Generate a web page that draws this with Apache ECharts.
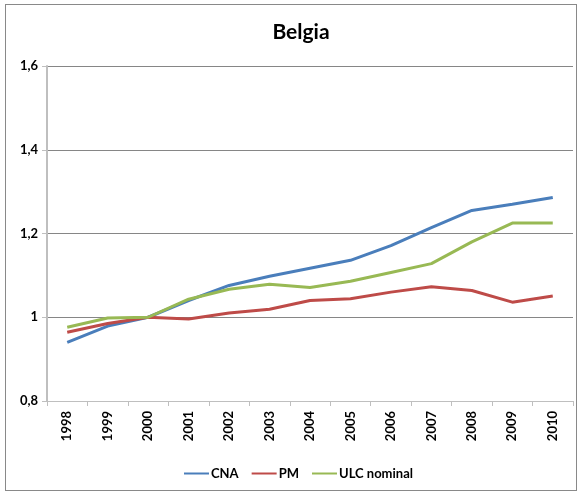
<!DOCTYPE html>
<html>
<head>
<meta charset="utf-8">
<script src="https://cdn.jsdelivr.net/npm/echarts@6/dist/echarts.min.js"></script>
<style>
  html, body { margin: 0; padding: 0; background: #fff; }
  #frame {
    position: absolute; left: 5px; top: 4px; width: 572px; height: 487px;
    border: 1px solid #898989; box-sizing: border-box;
  }
  #chart { position: absolute; left: 0; top: 0; width: 582px; height: 493px; }
</style>
</head>
<body>
<div id="frame"></div>
<div id="chart"></div>
<script>
const years = ['1998', '1999', '2000', '2001', '2002', '2003', '2004', '2005', '2006', '2007', '2008', '2009', '2010'];
const cna = [0.940, 0.979, 1.000, 1.040, 1.076, 1.098, 1.117, 1.136, 1.171, 1.214, 1.255, 1.270, 1.286];
const pm = [0.964, 0.985, 1.000, 0.996, 1.010, 1.019, 1.040, 1.044, 1.060, 1.073, 1.064, 1.036, 1.051];
const ulc = [0.976, 0.998, 1.000, 1.043, 1.067, 1.079, 1.071, 1.086, 1.107, 1.128, 1.180, 1.225, 1.225];
const yTicks = { 0.8: '0,8', 1: '1', 1.2: '1,2', 1.4: '1,4', 1.6: '1,6' };

const font = 'Lato, "Open Sans", sans-serif';
const chart = echarts.init(document.getElementById('chart'));

chart.setOption({
  animation: false,
  title: {
    text: 'Belgia',
    left: 296, top: 17, textAlign: 'center',
    textStyle: { fontFamily: font, fontSize: 21, fontWeight: 'bold', color: '#000' },
  },
  legend: {
    top: 462, left: 179,
    itemWidth: 25, itemHeight: 2, itemGap: 13,
    icon: 'rect',
    textStyle: { fontFamily: font, fontSize: 13, fontWeight: 'bold', color: '#000', padding: [0, 0, 0, -3] },
    data: ['CNA', 'PM', 'ULC nominal'],
  },
  grid: { left: 47, right: 9, top: 66, bottom: 92 },
  xAxis: {
    type: 'category',
    data: years,
    boundaryGap: true,
    axisLine: { lineStyle: { color: '#bfbfbf', width: 1 } },
    axisTick: { show: true, length: 5, lineStyle: { color: '#bfbfbf' } },
    axisLabel: {
      rotate: 90, margin: 10, interval: 0,
      fontFamily: font, fontSize: 13, fontWeight: 'bold', color: '#000',
    },
  },
  yAxis: {
    type: 'value',
    min: 0.8, max: 1.6, interval: 0.2,
    axisLine: { show: true, lineStyle: { color: '#bfbfbf', width: 2 } },
    axisTick: { show: true, length: 5, lineStyle: { color: '#bfbfbf' } },
    splitLine: { lineStyle: { color: '#868686', width: 1 } },
    axisLabel: {
      margin: 9,
      fontFamily: font, fontSize: 13, fontWeight: 'bold', color: '#000',
      formatter: (v) => yTicks[Math.round(v * 10) / 10] ?? '',
    },
  },
  series: [
    { name: 'CNA', type: 'line', data: cna, showSymbol: false, lineStyle: { width: 3, color: '#4a7ebb' }, itemStyle: { color: '#4a7ebb' } },
    { name: 'PM', type: 'line', data: pm, showSymbol: false, lineStyle: { width: 3, color: '#be4b48' }, itemStyle: { color: '#be4b48' } },
    { name: 'ULC nominal', type: 'line', data: ulc, showSymbol: false, lineStyle: { width: 3, color: '#98b954' }, itemStyle: { color: '#98b954' } },
  ],
});
</script>
</body>
</html>
